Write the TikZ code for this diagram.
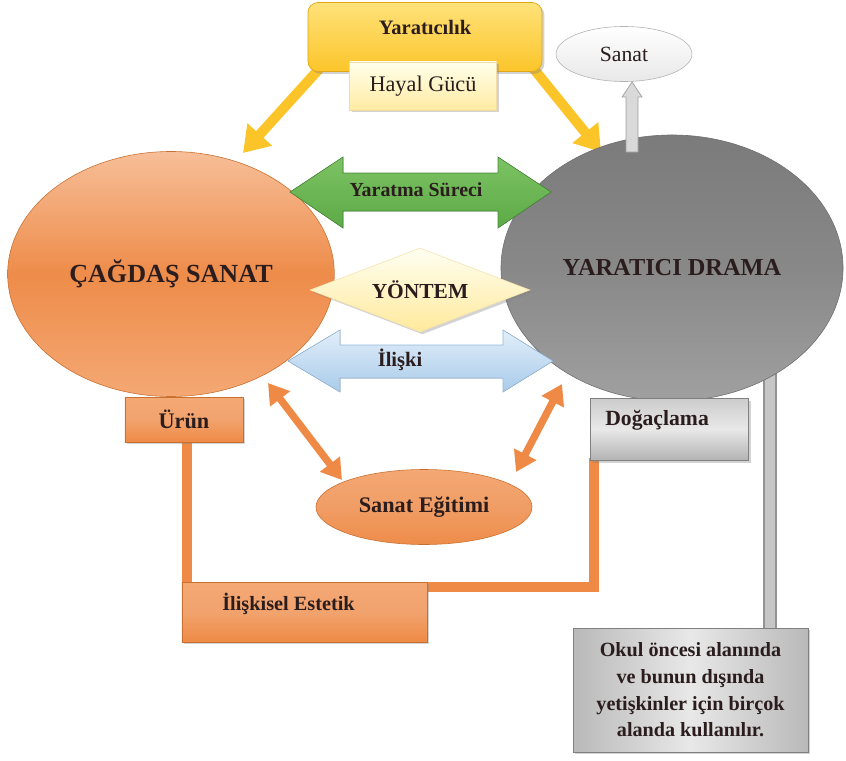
\documentclass[tikz,border=0pt]{standalone}
\usepackage{fontspec}
\setmainfont{Liberation Serif}
\usetikzlibrary{shapes.geometric,arrows.meta,shadows}
\definecolor{txt}{HTML}{2B1D1D}
\definecolor{ora}{HTML}{EE8A45}
\definecolor{oraL}{HTML}{F7BE98}
\definecolor{oraM}{HTML}{EE8C4A}
\definecolor{oraB}{HTML}{F4A874}
\definecolor{oraE}{HTML}{C8702F}
\definecolor{gryT}{HTML}{7B7B7B}
\definecolor{gryM}{HTML}{888888}
\definecolor{gryB}{HTML}{A0A0A0}
\definecolor{gryE}{HTML}{6E6E6E}
\definecolor{yel}{HTML}{FBC52A}
\definecolor{yelT}{HTML}{FFE27A}
\definecolor{yelE}{HTML}{E0A818}
\definecolor{grn}{HTML}{5DAA46}
\definecolor{grnT}{HTML}{7CC264}
\definecolor{grnE}{HTML}{46893A}
\definecolor{bluT}{HTML}{E2EEF9}
\definecolor{bluB}{HTML}{A9CBEA}
\definecolor{bluE}{HTML}{94B6D8}
\begin{document}
\begin{tikzpicture}[x=0.03cm,y=-0.03cm,
  every node/.style={font=\bfseries, text=txt, inner sep=0pt},
  shad/.style={drop shadow={shadow xshift=2pt,shadow yshift=-2pt,opacity=0.35}},
  orabox/.style={rectangle, draw=oraE, line width=0.5pt, top color=oraB, bottom color=ora, middle color=oraM!80!white, shad},
  grybox/.style={rectangle, draw=gray, line width=0.5pt, top color=gray!40, bottom color=gray!60, middle color=gray!18, shad},
  oraline/.style={draw=ora, line width=0.28cm},
  oradbl/.style={draw=ora, line width=0.22cm, {Triangle[width=0.72cm,length=0.6cm]}-{Triangle[width=0.72cm,length=0.6cm]}},
  yelarrow/.style={draw=yel, line width=0.3cm, -{Triangle[width=0.95cm,length=0.75cm]}},
]
\useasboundingbox (0,0) rectangle (846,760);

% coordinates for connector ends
\coordinate (gtop) at (770,360);
\coordinate (gbot) at (770,630);
\coordinate (ydl) at (320,68);
\coordinate (ydr) at (533,68);
\coordinate (yal) at (243,153);
\coordinate (yar) at (601,152);
\coordinate (la0) at (268,383);
\coordinate (la1) at (342,480);
\coordinate (ra0) at (562,384);
\coordinate (ra1) at (516,472);
\coordinate (u0) at (187,440);
\coordinate (u1) at (187,586);
\coordinate (e0) at (426,587);
\coordinate (e1) at (594,587);
\coordinate (d0) at (594,458);

% background lines
\draw[draw=gray!85, line width=0.42cm] (gtop) -- (gbot);
\draw[draw=gray!45, line width=0.28cm] (gtop) -- (gbot);
\draw[oraline] (u0) -- (u1);
\draw[oraline] (e0) -- (e1) -- (d0);
\draw[yelarrow] (ydl) -- (yal);
\draw[yelarrow] (ydr) -- (yar);

% main ellipses
\node[ellipse, minimum width=9.8cm, minimum height=7.35cm, draw=oraE, line width=0.5pt,
      top color=oraL, bottom color=oraB, middle color=oraM, font=\bfseries\fontsize{22.3}{26}\selectfont]
      (cs) at (171,274) {ÇAĞDAŞ SANAT};
\node[ellipse, minimum width=10.26cm, minimum height=7.98cm, draw=gryE, line width=0.5pt,
      top color=gryT, bottom color=gryB, middle color=gryM, font=\bfseries\fontsize{20.8}{24}\selectfont]
      (rd) at (672,268) {YARATICI DRAMA};

% top boxes
\node[rectangle, rounded corners=0.3cm, minimum width=7.02cm, minimum height=2.07cm,
      draw=yelE, line width=0.6pt, top color=yelT, bottom color=yel, shad,
      label={[yshift=0.3cm, font=\bfseries\fontsize{17.5}{20}\selectfont, text=txt]center:Yaratıcılık}]
      (yc) at (425,37) {};
\node[rectangle, minimum width=4.41cm, minimum height=1.44cm, draw=yelE!40, line width=0.4pt,
      top color=yellow!8, bottom color=yelT!70, shad, font=\fontsize{19}{22}\selectfont]
      (hg) at (423,86) {Hayal Gücü};
\node[ellipse, minimum width=4.08cm, minimum height=1.65cm, draw=gray!60, line width=0.5pt,
      top color=white, bottom color=gray!18, font=\fontsize{18.5}{22}\selectfont]
      (sanat) at (624,54) {Sanat};
\draw[draw=gray!75, line width=0.6pt, fill=gray!30]
  (626,152) -- (626,97) -- (622,97) -- (632,82) -- (642,97) -- (638,97) -- (638,152) -- cycle;

% green double arrow
\fill[top color=grnT, bottom color=grn, draw=grnE, line width=0.5pt]
  (290,192) -- (343,157) -- (343,173) -- (498,173) -- (498,157) -- (551,192)
  -- (498,228) -- (498,211) -- (343,211) -- (343,228) -- cycle;
\node[font=\bfseries\fontsize{17}{20}\selectfont] (ys) at (416,190) {Yaratma Süreci};

% diamond
\node[diamond, aspect=2.6, minimum width=6.6cm, minimum height=2.52cm, draw=yelE!35, line width=0.5pt,
      top color=yellow!5, bottom color=yelT!75, shad, font=\bfseries\fontsize{18.3}{22}\selectfont]
      (yon) at (420,290) {YÖNTEM};

% blue double arrow
\fill[top color=bluT, bottom color=bluB, draw=bluE, line width=0.5pt]
  (288,361) -- (340,330) -- (340,345) -- (503,345) -- (503,330) -- (553,361)
  -- (503,392) -- (503,378) -- (340,378) -- (340,392) -- cycle;
\node[font=\bfseries\fontsize{17.5}{20}\selectfont] (il) at (400,360) {İlişki};

% lower boxes
\node[orabox, minimum width=3.54cm, minimum height=1.35cm, font=\bfseries\fontsize{19}{22}\selectfont]
      (urun) at (184,419.5) {Ürün};
\node[grybox, anchor=north west, text width=3.84cm, align=left, inner xsep=0.45cm, inner ysep=0.15cm,
      text height=0.66cm, text depth=0.9cm, font=\bfseries\fontsize{18.5}{22}\selectfont]
      (dog) at (590,398) {Doğaçlama};
\node[ellipse, minimum width=6.48cm, minimum height=2.25cm, draw=oraE, line width=0.5pt,
      top color=oraB, bottom color=oraM, middle color=oraM!85!white, font=\bfseries\fontsize{19}{22}\selectfont]
      (se) at (424,507) {Sanat Eğitimi};
\draw[oradbl] (la0) -- (la1);
\draw[oradbl] (ra0) -- (ra1);

\node[orabox, minimum width=7.35cm, minimum height=1.8cm,
      label={[xshift=-0.48cm, yshift=0.25cm, font=\bfseries\fontsize{17.3}{20}\selectfont, text=txt]center:İlişkisel Estetik}]
      (ie) at (304.5,612) {};
\node[rectangle, draw=gray, line width=0.5pt, left color=gray!55, right color=gray!55, middle color=gray!18, shad,
      minimum width=7.05cm, minimum height=3.72cm, align=center,
      font=\bfseries\fontsize{17.2}{22.7}\selectfont]
      (okul) at (690.5,690) {Okul öncesi alanında\\ve bunun dışında\\yetişkinler için birçok\\alanda kullanılır.};
\end{tikzpicture}
\end{document}
